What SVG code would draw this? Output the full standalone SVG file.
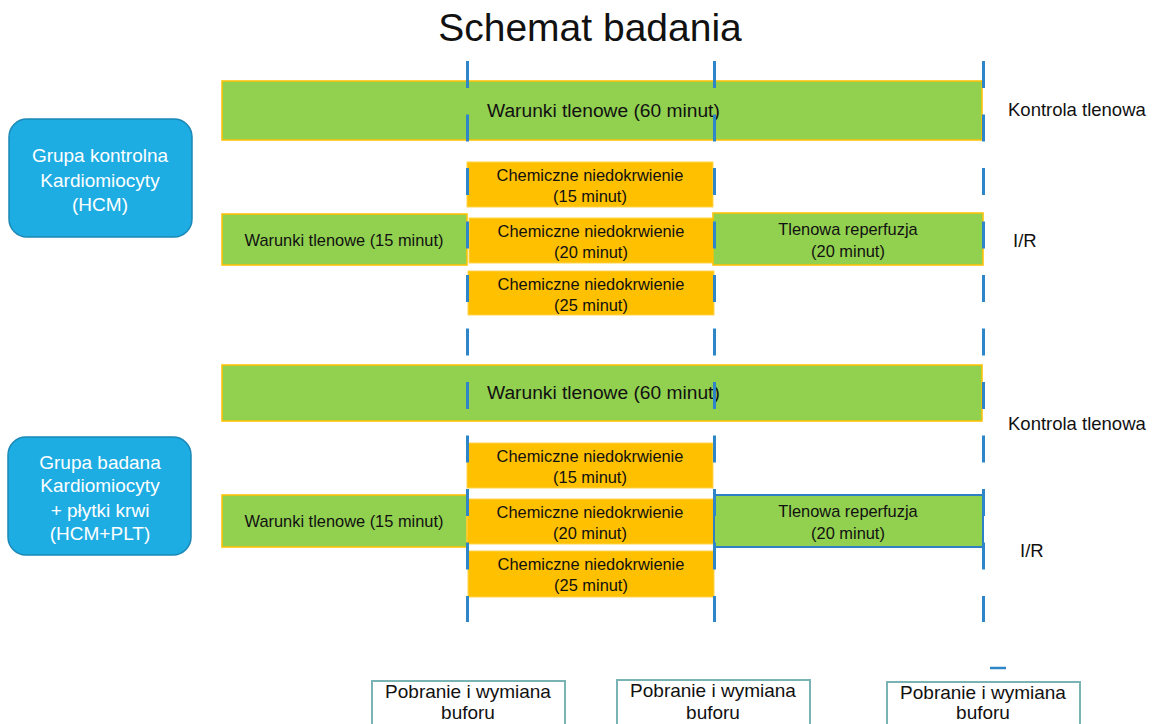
<svg xmlns="http://www.w3.org/2000/svg" width="1160" height="724" viewBox="0 0 1160 724">
<style>
text{font-family:"Liberation Sans",Arial,sans-serif;fill:#111;}
.title{font-size:39px;text-anchor:middle;}
.grp rect{fill:#1EADE3;stroke:#1B88B5;stroke-width:1.5;}
.grp text{fill:#fff;font-size:19px;text-anchor:middle;}
.green{fill:#92D050;stroke:#FFC000;stroke-width:1.5;}
.greenb{fill:#92D050;stroke:#2E7FC4;stroke-width:2;}
.chem{fill:#FFC000;stroke:#FFD34D;stroke-width:1;}
.lbl{font-size:16.4px;text-anchor:middle;}
.big{font-size:19.2px;}
.side{font-size:18.5px;}
.buf rect{fill:#fff;stroke:#7AB3B3;stroke-width:2;}
.buf text{font-size:19px;text-anchor:middle;}
.guide{stroke:#2E86C8;stroke-width:3;stroke-dasharray:27 26.5;fill:none;}
</style>
<text class="title" x="590" y="41">Schemat badania</text>

<g id="group-control" class="grp">
<rect x="9" y="119" width="183" height="118" rx="18"/>
<text x="100" y="162">Grupa kontrolna</text>
<text x="100" y="187">Kardiomiocyty</text>
<text x="100" y="211">(HCM)</text>
</g>
<g id="group-test" class="grp">
<rect x="8" y="437" width="183" height="118" rx="18"/>
<text x="100" y="469">Grupa badana</text>
<text x="100" y="492">Kardiomiocyty</text>
<text x="100" y="517">+ płytki krwi</text>
<text x="100" y="540">(HCM+PLT)</text>
</g>

<g id="c-aer60">
<rect class="green" x="222" y="81" width="760" height="59"/>
<text class="big" x="487" y="117">Warunki tlenowe (60 minut)</text>
</g>
<g id="c-chem15">
<rect class="chem" x="467" y="162" width="246" height="45"/>
<text class="lbl" x="590" y="181">Chemiczne niedokrwienie</text>
<text class="lbl" x="590" y="202">(15 minut)</text>
</g>
<g id="c-aer15">
<rect class="green" x="222" y="214" width="245" height="51"/>
<text class="lbl" x="344" y="246">Warunki tlenowe (15 minut)</text>
</g>
<g id="c-chem20">
<rect class="chem" x="469" y="218" width="245" height="45"/>
<text class="lbl" x="591" y="237">Chemiczne niedokrwienie</text>
<text class="lbl" x="591" y="258">(20 minut)</text>
</g>
<g id="c-reperf">
<rect class="green" x="713" y="213" width="270" height="52"/>
<text class="lbl" x="848" y="235">Tlenowa reperfuzja</text>
<text class="lbl" x="848" y="257">(20 minut)</text>
</g>
<g id="c-chem25">
<rect class="chem" x="468" y="271" width="246" height="44"/>
<text class="lbl" x="591" y="290">Chemiczne niedokrwienie</text>
<text class="lbl" x="591" y="311">(25 minut)</text>
</g>

<g id="t-aer60">
<rect class="green" x="222" y="365" width="760" height="56"/>
<text class="big" x="487" y="399">Warunki tlenowe (60 minut)</text>
</g>
<g id="t-chem15">
<rect class="chem" x="467" y="443" width="246" height="45"/>
<text class="lbl" x="590" y="462">Chemiczne niedokrwienie</text>
<text class="lbl" x="590" y="483">(15 minut)</text>
</g>
<g id="t-aer15">
<rect class="green" x="222" y="495" width="245" height="52"/>
<text class="lbl" x="344" y="527">Warunki tlenowe (15 minut)</text>
</g>
<g id="t-chem20">
<rect class="chem" x="467" y="499" width="247" height="45"/>
<text class="lbl" x="590" y="518">Chemiczne niedokrwienie</text>
<text class="lbl" x="590" y="539">(20 minut)</text>
</g>
<g id="t-reperf">
<rect class="greenb" x="714" y="495" width="269" height="52"/>
<text class="lbl" x="848" y="517">Tlenowa reperfuzja</text>
<text class="lbl" x="848" y="539">(20 minut)</text>
</g>
<g id="t-chem25">
<rect class="chem" x="468" y="551" width="246" height="46"/>
<text class="lbl" x="591" y="570">Chemiczne niedokrwienie</text>
<text class="lbl" x="591" y="591">(25 minut)</text>
</g>

<g id="connectors">
<line class="guide" x1="467.5" y1="61" x2="467.5" y2="622"/>
<line class="guide" x1="714.5" y1="61" x2="714.5" y2="622"/>
<line class="guide" x1="983.5" y1="61" x2="983.5" y2="622"/>
<line x1="990" y1="668" x2="1006" y2="668" stroke="#2E86C8" stroke-width="2.5"/>
</g>

<g id="labels">
<text class="side" x="1008" y="116">Kontrola tlenowa</text>
<text class="side" x="1013" y="247">I/R</text>
<text class="side" x="1008" y="430">Kontrola tlenowa</text>
<text class="side" x="1020" y="557">I/R</text>
</g>

<g id="buf1" class="buf">
<rect x="372" y="681" width="193" height="50"/>
<text x="468" y="698">Pobranie i wymiana</text>
<text x="468" y="719">buforu</text>
</g>
<g id="buf2" class="buf">
<rect x="617" y="680" width="193" height="50"/>
<text x="713" y="697">Pobranie i wymiana</text>
<text x="713" y="719">buforu</text>
</g>
<g id="buf3" class="buf">
<rect x="887" y="682" width="193" height="50"/>
<text x="983" y="699">Pobranie i wymiana</text>
<text x="983" y="719">buforu</text>
</g>
</svg>
